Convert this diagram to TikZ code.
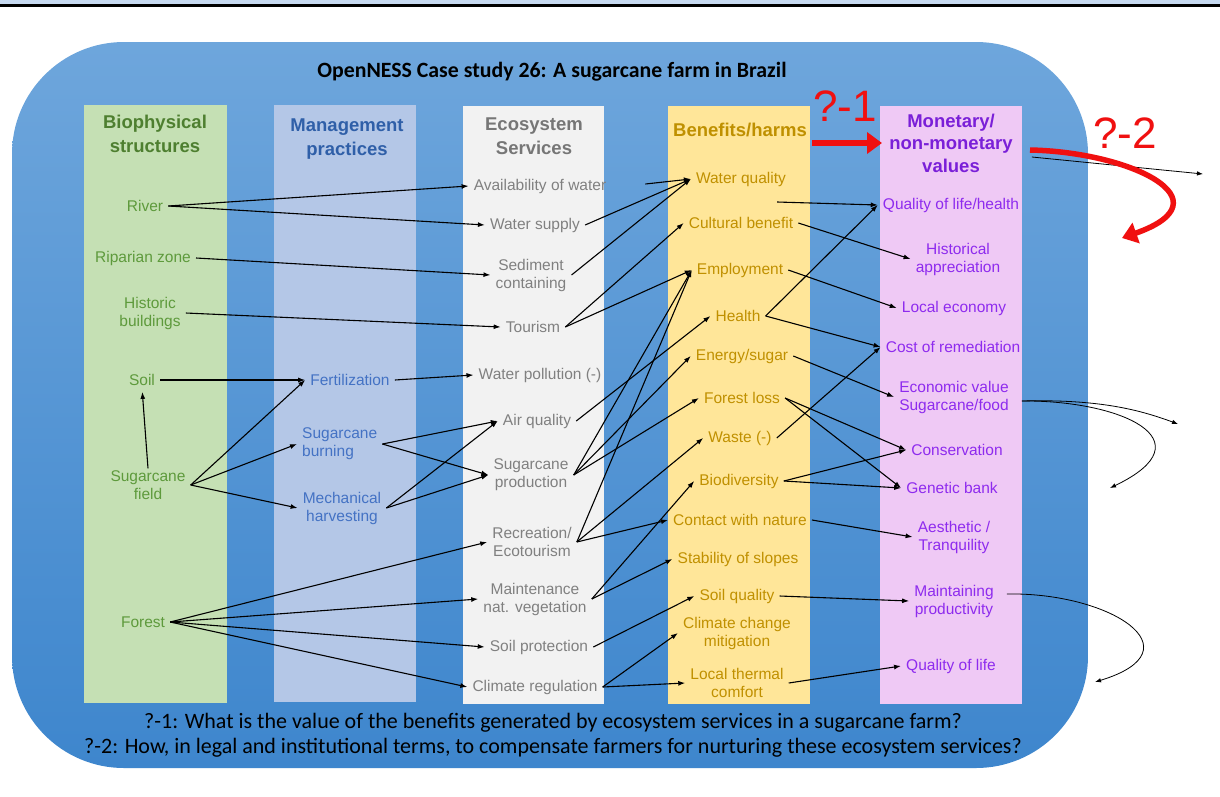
\documentclass[tikz,border=0pt]{standalone}
\usepackage{fontspec}
\setmainfont{Liberation Sans}
\newfontfamily\calib{Carlito}
\usetikzlibrary{arrows.meta}

\definecolor{bandblue}{HTML}{C6D9F0}
\definecolor{bgtop}{HTML}{6EA6DC}
\definecolor{bgmid}{HTML}{4A90D8}
\definecolor{bgbot}{HTML}{3E86CD}
\definecolor{biocol}{HTML}{C5E0B4}
\definecolor{mancol}{HTML}{B4C7E7}
\definecolor{escol}{HTML}{F2F2F2}
\definecolor{bencol}{HTML}{FFE699}
\definecolor{valcol}{HTML}{EFC9F5}
\definecolor{biohead}{HTML}{4E7F30}
\definecolor{biotxt}{HTML}{5E9A3C}
\definecolor{manhead}{HTML}{2F5FA8}
\definecolor{mantxt}{HTML}{4472C4}
\definecolor{eshead}{HTML}{767676}
\definecolor{estxt}{HTML}{808080}
\definecolor{benhead}{HTML}{BF9000}
\definecolor{bentxt}{HTML}{C09000}
\definecolor{valhead}{HTML}{7A1FD8}
\definecolor{valtxt}{HTML}{8E2BEE}
\definecolor{qred}{HTML}{F01010}

\begin{document}
\begin{tikzpicture}[x=1pt,y=-1pt,
  every node/.style={inner xsep=5pt,inner ysep=2pt,align=center},
  item/.style={font=\fontsize{15.5}{18}\selectfont},
  head/.style={font=\fontsize{18.5}{23.5}\selectfont\bfseries},
  bio/.style={item,text=biotxt},
  man/.style={item,text=mantxt},
  es/.style={item,text=estxt},
  ben/.style={item,text=bentxt},
  val/.style={item,text=valtxt},
  link/.style={-{Latex[length=7pt,width=5pt]},line width=1.1pt,black},
  thinlink/.style={-{Latex[length=6pt,width=4.5pt]},line width=0.8pt,black},
  redarrow/.style={-{Triangle[length=15pt,width=21pt]},line width=5.5pt,qred},
  qlabel/.style={font=\fontsize{44}{44}\selectfont,text=qred,inner sep=0pt}
]
\useasboundingbox (0,0) rectangle (1220,796);
\fill[white] (0,0) rectangle (1220,796);

% top rule
\fill[bandblue] (0,0) rectangle (1220,4);
\fill[black] (0,4) rectangle (1220,6.5);

% rounded blue panel
\shade[top color=bgtop,middle color=bgmid,bottom color=bgbot,rounded corners=112pt]
  (12,42) rectangle (1088,768);

% column bands
\fill[biocol] (84,105) rectangle (227,703);
\fill[mancol] (274,105) rectangle (416,702);
\fill[escol]  (463,106) rectangle (604,704);
\fill[bencol] (668,106) rectangle (810,704);
\fill[valcol] (880,106) rectangle (1022,704);

% title
\node[font=\calib\bfseries\fontsize{21.8}{24}\selectfont] (title) at (552,72)
  {OpenNESS Case study 26: A sugarcane farm in Brazil};

% column headers
\node[head,text=biohead] (bioh) at (155,134) {Biophysical\\structures};
\node[head,text=manhead] (manh) at (347,139) {Management\\practices};
\node[head,text=eshead]  (esh)  at (534,136) {Ecosystem\\Services};
\node[head,text=benhead] (benh) at (740,130) {Benefits/harms};
\node[head,text=valhead,font=\fontsize{18.5}{22.5}\selectfont\bfseries] (valh) at (951,143)
  {Monetary/\\non-monetary\\values};

% biophysical structures
\node[bio] (river)  at (145,206) {River};
\node[bio] (ripar)  at (143,258) {Riparian zone};
\node[bio] (hist)   at (150,313) {Historic\\buildings};
\node[bio] (soil)   at (142,380) {Soil};
\node[bio] (scf)    at (148,485) {Sugarcane\\field};
\node[bio] (forest) at (143,622) {Forest};

% management practices
\node[man] (fert) at (350,380) {Fertilization};
\node[man,align=left,anchor=west] (burn) at (297,444) {Sugarcane\\burning};
\node[man] (mech) at (342,508) {Mechanical\\harvesting};

% ecosystem services
\node[es] (avail) at (540,186) {Availability of water};
\node[es] (wsup)  at (535,225) {Water supply};
\node[es] (sed)   at (531,275) {Sediment\\containing};
\node[es] (tour)  at (533,327) {Tourism};
\node[es] (wpol)  at (540,375) {Water pollution (-)};
\node[es] (airq)  at (537,421) {Air quality};
\node[es] (scp)   at (531,475) {Sugarcane\\production};
\node[es] (rec)   at (532,542) {Recreation/\\Ecotourism};
\node[es] (maint) at (535,599) {Maintenance\\nat. vegetation};
\node[es] (soilp) at (539,647) {Soil protection};
\node[es] (clim)  at (535,687) {Climate regulation};

% benefits / harms
\node[ben] (wq)      at (741,179) {Water quality};
\node[ben] (cult)    at (741,223) {Cultural benefit};
\node[ben] (empl)    at (740,270) {Employment};
\node[ben] (health)  at (738,316) {Health};
\node[ben] (energy)  at (742,356) {Energy/sugar};
\node[ben] (floss)   at (742,398) {Forest loss};
\node[ben] (waste)   at (740,438) {Waste (-)};
\node[ben] (biod)    at (739,481) {Biodiversity};
\node[ben] (contact) at (740,520) {Contact with nature};
\node[ben] (slopes)  at (738,559) {Stability of slopes};
\node[ben] (soilq)   at (737,596) {Soil quality};
\node[ben] (ccm)     at (737,633) {Climate change\\mitigation};
\node[ben] (ltc)     at (737,683) {Local thermal\\comfort};

% monetary / non-monetary values
\node[val] (qlh)     at (951,205) {Quality of life/health};
\node[val] (histapp) at (958,259) {Historical\\appreciation};
\node[val] (leco)    at (954,308) {Local economy};
\node[val] (cost)    at (953,347) {Cost of remediation};
\node[val] (econ)    at (954,397) {Economic value\\Sugarcane/food};
\node[val] (cons)    at (957,450) {Conservation};
\node[val] (gen)     at (952,488) {Genetic bank};
\node[val] (aest)    at (954,537) {Aesthetic /\\Tranquility};
\node[val] (maintp)  at (954,601) {Maintaining\\productivity};
\node[val] (ql)      at (951,666) {Quality of life};

% structures -> practices / services
\draw[link] (river.east) -- (avail.west);
\draw[link] (river.east) -- (wsup.west);
\draw[link] (ripar.east) -- (sed.west);
\draw[link] (hist.east) -- (tour.west);
\draw[link] (soil.east) -- (fert.west);
\draw[link,shorten >=4pt] (scf.north) -- (soil.south);
\draw[link] (scf.east) -- (fert.west);
\draw[link] (scf.east) -- (burn.west);
\draw[link] (scf.east) -- (mech.west);
\draw[link] (forest.east) -- (rec.west);
\draw[link] (forest.east) -- (maint.west);
\draw[link] (forest.east) -- (soilp.west);
\draw[link] (forest.east) -- (clim.west);

% practices -> services
\draw[link] (fert.east) -- (wpol.west);
\draw[link] (burn.east) -- (airq.west);
\draw[link] (burn.east) -- (scp.west);
\draw[link] (mech.east) -- (airq.west);
\draw[link] (mech.east) -- (scp.west);

% services -> benefits / harms
\draw[link] ([xshift=34pt,yshift=2pt]avail.east) -- (wq.west);
\draw[link] (wsup.east) -- (wq.west);
\draw[link] (sed.east) -- (wq.west);
\draw[link] (tour.east) -- (cult.west);
\draw[link] (tour.east) -- (empl.west);
\draw[link] (airq.east) -- (health.west);
\draw[link] (scp.east) -- (empl.west);
\draw[link] (scp.east) -- (energy.west);
\draw[link] (scp.east) -- (floss.west);
\draw[link] (rec.east) -- (empl.west);
\draw[link] (rec.east) -- (waste.west);
\draw[link] (rec.east) -- (contact.west);
\draw[link] (maint.east) -- (biod.west);
\draw[link] (maint.east) -- (slopes.west);
\draw[link] (soilp.east) -- (soilq.west);
\draw[link] (clim.east) -- (ccm.west);
\draw[link] (clim.east) -- (ltc.west);

% benefits / harms -> values
\draw[link] ([xshift=-14pt,yshift=-23pt]wq.east) -- (qlh.west);
\draw[link] (cult.east) -- (histapp.west);
\draw[link] (empl.east) -- (leco.west);
\draw[link] (health.east) -- (qlh.west);
\draw[link] (health.east) -- (cost.west);
\draw[link] (energy.east) -- (econ.west);
\draw[link] (floss.east) -- (cons.west);
\draw[link] (floss.east) -- (gen.west);
\draw[link] (waste.east) -- (cost.west);
\draw[link] (biod.east) -- (cons.west);
\draw[link] (biod.east) -- (gen.west);
\draw[link] (contact.east) -- (aest.west);
\draw[link] (soilq.east) -- (maintp.west);
\draw[link] (ltc.east) -- (ql.west);

% feedback and outflow curves
\coordinate (o1) at (1203,174);
\coordinate (o2) at (1178,424);
\coordinate (o3) at (1110,488);
\coordinate (o4) at (1095,682);
\draw[thinlink] ([xshift=14pt,yshift=-14pt]valh.east) -- (o1);
\draw[thinlink] ([xshift=8pt,yshift=-4pt]econ.east) .. controls (1100,399) and (1140,410) .. (o2);
\draw[thinlink] ([xshift=8pt,yshift=-4pt]econ.east) .. controls (1120,400) and (1210,440) .. (o3);
\draw[thinlink] ([xshift=8pt,yshift=7pt]maintp.east) .. controls (1110,592) and (1200,650) .. (o4);

% question arrows
\coordinate (r1a) at (812,143);
\coordinate (r1b) at (882,143);
\coordinate (r2a) at (1030,150);
\coordinate (r2b) at (1122,238);
\draw[redarrow] (r1a) -- (r1b);
\draw[redarrow] (r2a) .. controls (1130,152) and (1230,200) .. (r2b);
\node[qlabel] (q1) at (845,106) {?-1};
\node[qlabel] (q2) at (1125,133) {?-2};

% questions
\node[font=\calib\fontsize{22}{25}\selectfont] (quest) at (553,735)
  {?-1: What is the value of the benefits generated by ecosystem services in a sugarcane farm?\\
   ?-2: How, in legal and institutional terms, to compensate farmers for nurturing these ecosystem services?};
\end{tikzpicture}
\end{document}
